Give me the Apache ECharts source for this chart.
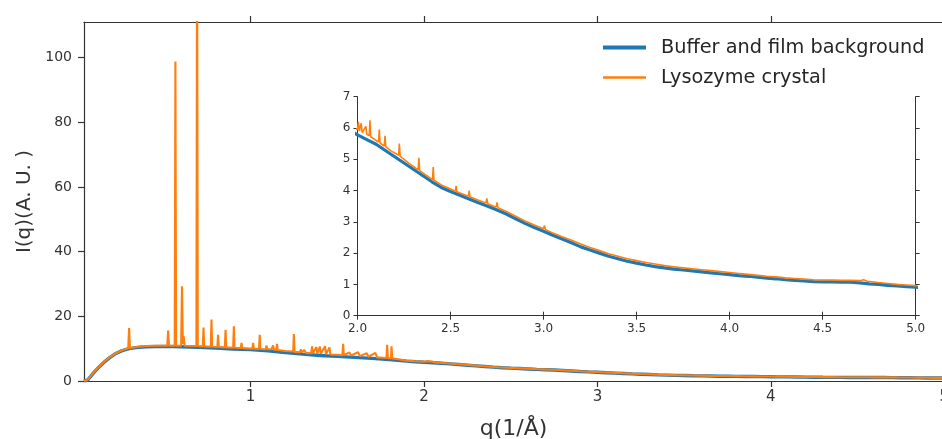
<!DOCTYPE html>
<html>
<head>
<meta charset="utf-8">
<script src="https://cdn.jsdelivr.net/npm/echarts@6/dist/echarts.min.js"></script>
<style>
  html, body { margin: 0; padding: 0; background: #fff; overflow: hidden; }
  #chart { width: 942px; height: 439px; }
</style>
</head>
<body>
<div id="chart"></div>
<script>
// ---- data ----
const seriesNames = ['Buffer and film background', 'Lysozyme crystal'];
const mainXTicks = [1, 2, 3, 4, 5];
const mainYTicks = [0, 20, 40, 60, 80, 100];

// [q (1/Å), I(q)]
const background = [
  [0.04,0],[0.06,0.3],[0.08,1.5],[0.10,2.8],[0.13,4.5],[0.16,6.0],[0.19,7.3],[0.22,8.4],
  [0.26,9.4],[0.30,10.0],[0.35,10.4],[0.40,10.6],[0.50,10.7],[0.60,10.6],[0.70,10.4],
  [0.80,10.2],[0.90,9.9],[1.00,9.7],[1.10,9.3],[1.20,8.8],[1.30,8.3],[1.40,7.9],[1.50,7.6],
  [1.60,7.3],[1.70,7.0],[1.80,6.6],[1.90,6.15],[1.95,5.95],[2.00,5.78],[2.05,5.63],[2.10,5.48],
  [2.15,5.28],[2.20,5.08],[2.25,4.88],[2.30,4.68],[2.35,4.48],[2.40,4.28],[2.45,4.1],[2.50,3.97],
  [2.55,3.85],[2.60,3.73],[2.65,3.61],[2.70,3.5],[2.75,3.38],[2.80,3.25],[2.85,3.1],[2.90,2.95],
  [2.95,2.82],[3.00,2.7],[3.05,2.57],[3.10,2.45],[3.15,2.33],[3.20,2.2],[3.25,2.1],[3.30,2.0],
  [3.35,1.9],[3.40,1.82],[3.45,1.74],[3.50,1.68],[3.55,1.62],[3.60,1.57],[3.65,1.53],[3.70,1.49],
  [3.75,1.46],[3.80,1.43],[3.85,1.4],[3.90,1.37],[3.95,1.34],[4.00,1.31],[4.05,1.28],[4.10,1.26],
  [4.15,1.23],[4.20,1.2],[4.25,1.18],[4.30,1.15],[4.35,1.13],[4.40,1.11],[4.45,1.09],[4.50,1.08],
  [4.55,1.08],[4.60,1.07],[4.65,1.07],[4.70,1.05],[4.75,1.02],[4.80,1.0],[4.85,0.97],[4.90,0.95],
  [4.95,0.93],[5.00,0.91],[5.05,0.89],[5.10,0.87]
];

const crystal = [
  [0.04,0],[0.06,0.4],[0.08,1.6],[0.10,2.9],[0.13,4.6],[0.16,6.1],[0.19,7.4],[0.22,8.5],
  [0.26,9.5],[0.295,10.1],[0.30,16.4],[0.305,10.15],[0.35,10.6],[0.40,10.8],[0.45,10.9],
  [0.50,10.9],[0.52,10.9],[0.525,15.6],[0.53,10.9],[0.563,10.9],[0.567,98.8],[0.571,10.9],
  [0.60,10.9],[0.605,29.3],[0.61,11.5],[0.615,13.8],[0.62,10.9],[0.688,10.8],[0.692,140],
  [0.696,10.8],[0.725,10.7],[0.729,16.5],[0.733,10.7],[0.771,10.6],[0.775,19],[0.779,10.6],
  [0.809,10.5],[0.813,14.3],[0.817,10.5],[0.852,10.4],[0.856,15.8],[0.86,10.4],[0.90,10.3],
  [0.904,16.9],[0.908,10.3],[0.944,10.2],[0.948,11.8],[0.952,10.2],[0.98,10.1],[1.011,10.0],
  [1.015,11.8],[1.019,10.0],[1.049,9.9],[1.053,14.3],[1.057,9.9],[1.088,9.8],[1.092,11.0],
  [1.096,9.8],[1.12,9.8],[1.13,11.0],[1.135,9.7],[1.149,9.6],[1.153,11.5],[1.157,9.6],
  [1.20,9.3],[1.246,9.1],[1.25,14.5],[1.254,9.0],[1.285,8.9],[1.29,9.8],[1.295,8.8],
  [1.31,9.6],[1.32,8.7],[1.35,8.6],[1.355,10.7],[1.36,8.6],[1.38,10.5],[1.385,8.5],
  [1.40,10.6],[1.405,8.4],[1.43,10.7],[1.435,8.3],[1.455,10.4],[1.46,8.2],[1.50,8.1],
  [1.53,8.0],[1.534,11.5],[1.538,8.0],[1.57,8.8],[1.58,7.9],[1.62,8.9],[1.63,7.7],
  [1.67,8.6],[1.68,7.5],[1.72,8.7],[1.73,7.3],[1.76,7.2],[1.784,7.1],[1.788,11.2],
  [1.792,7.1],[1.81,7.0],[1.813,10.7],[1.817,7.0],[1.85,6.75],[1.90,6.3],[1.95,6.1],
  [2.0,5.95],[2.005,6.2],[2.01,5.9],[2.02,6.15],[2.025,5.85],[2.045,6.05],[2.05,5.8],
  [2.063,5.76],[2.067,6.25],[2.071,5.72],[2.113,5.55],[2.117,5.95],[2.121,5.52],[2.144,5.42],
  [2.148,5.75],[2.152,5.4],[2.18,5.27],[2.221,5.13],[2.225,5.5],[2.229,5.1],[2.27,4.9],
  [2.326,4.66],[2.33,5.05],[2.334,4.64],[2.403,4.35],[2.407,4.75],[2.411,4.33],[2.45,4.18],
  [2.50,4.05],[2.526,3.98],[2.53,4.15],[2.534,3.96],[2.596,3.82],[2.6,4.0],[2.604,3.8],
  [2.65,3.69],[2.69,3.6],[2.695,3.75],[2.70,3.58],[2.745,3.47],[2.75,3.62],[2.755,3.45],
  [2.80,3.33],[2.85,3.18],[2.90,3.03],[2.95,2.9],[3.0,2.78],[3.005,2.88],[3.01,2.76],
  [3.05,2.64],[3.10,2.52],[3.15,2.41],[3.20,2.29],[3.25,2.18],[3.30,2.08],[3.35,1.98],
  [3.40,1.9],[3.45,1.82],[3.50,1.76],[3.55,1.7],[3.60,1.65],[3.65,1.6],[3.70,1.56],
  [3.75,1.53],[3.80,1.5],[3.85,1.47],[3.90,1.44],[3.95,1.41],[4.00,1.38],[4.05,1.35],
  [4.10,1.32],[4.15,1.29],[4.20,1.26],[4.25,1.24],[4.30,1.21],[4.35,1.19],[4.40,1.17],
  [4.45,1.15],[4.50,1.14],[4.55,1.14],[4.60,1.13],[4.65,1.13],[4.70,1.12],[4.72,1.15],
  [4.74,1.1],[4.80,1.06],[4.85,1.03],[4.90,1.0],[4.95,0.98],[5.00,0.96],[5.05,0.94],[5.10,0.92]
];

// ---- styling ----
const FONT = 'DejaVu Sans';
const INK = '#333';
const BLUE = '#1f77b4';
const ORANGE = '#ff7f0e';
const spine = { show: true, lineStyle: { color: INK, width: 1.2 } };

function axisBase(extra) {
  return Object.assign({
    type: 'value',
    axisLine: spine,
    splitLine: { show: false },
    axisTick: { show: true, inside: false, length: 5, lineStyle: { color: INK, width: 1.2 } },
    axisLabel: { color: INK, fontFamily: FONT, fontSize: 14 }
  }, extra);
}

const chart = echarts.init(document.getElementById('chart'), null, { renderer: 'canvas' });

const option = {
  animation: false,
  backgroundColor: '#fff',
  textStyle: { fontFamily: FONT },
  grid: [
    { left: 84, top: 22, width: 869, bottom: 58, containLabel: false, outerBoundsMode: 'none' },
    { left: 357.5, top: 96.7, width: 558.2, height: 219, containLabel: false, outerBoundsMode: 'none' }
  ],
  legend: [
    {
      data: [seriesNames[0]], left: 603, top: 38, padding: 0, icon: 'rect',
      itemWidth: 43, itemHeight: 4,
      textStyle: { fontSize: 19.3, color: '#262626', fontFamily: FONT, padding: [0, 0, 0, 10] }
    },
    {
      data: [seriesNames[1]], left: 603, top: 68, padding: 0, icon: 'rect',
      itemWidth: 43, itemHeight: 2.5,
      textStyle: { fontSize: 19.3, color: '#262626', fontFamily: FONT, padding: [0, 0, 0, 10] }
    }
  ],
  xAxis: [
    axisBase({
      gridIndex: 0, position: 'bottom', min: 0.04, max: 5.05,
      axisTick: { show: true, inside: false, length: 6, customValues: mainXTicks, lineStyle: { color: INK, width: 1.2 } },
      axisLabel: { color: INK, fontFamily: FONT, fontSize: 15, margin: 9, customValues: mainXTicks },
      name: 'q(1/Å)', nameLocation: 'middle', nameGap: 37,
      nameTextStyle: { fontSize: 22, color: INK, fontFamily: FONT, padding: [0, 10, 0, 0] }
    }),
    axisBase({
      gridIndex: 0, position: 'top', min: 0.04, max: 5.05,
      axisTick: { show: true, inside: false, length: 6, customValues: mainXTicks, lineStyle: { color: INK, width: 1.2 } },
      axisLabel: { show: false }
    }),
    axisBase({
      gridIndex: 1, position: 'bottom', min: 2, max: 5, interval: 0.5,
      axisTick: { show: true, inside: false, length: 4, lineStyle: { color: INK, width: 1 } },
      axisLine: { show: true, lineStyle: { color: INK, width: 1 } },
      axisLabel: { color: INK, fontFamily: FONT, fontSize: 12, margin: 7, formatter: v => v.toFixed(1) }
    }),
    axisBase({
      gridIndex: 1, position: 'top', min: 2, max: 5, interval: 0.5,
      axisTick: { show: true, inside: false, length: 4, lineStyle: { color: INK, width: 1 } },
      axisLine: { show: true, lineStyle: { color: INK, width: 1 } },
      axisLabel: { show: false }
    })
  ],
  yAxis: [
    axisBase({
      gridIndex: 0, position: 'left', min: 0, max: 111,
      axisTick: { show: true, inside: false, length: 6, customValues: mainYTicks, lineStyle: { color: INK, width: 1.2 } },
      axisLabel: { color: INK, fontFamily: FONT, fontSize: 14, margin: 12, customValues: mainYTicks },
      name: 'I(q)(A. U. )', nameLocation: 'middle', nameGap: 49, nameRotate: 90,
      nameTextStyle: { fontSize: 20, color: INK, fontFamily: FONT }
    }),
    axisBase({
      gridIndex: 1, position: 'left', min: 0, max: 7, interval: 1,
      axisTick: { show: true, inside: false, length: 4, lineStyle: { color: INK, width: 1 } },
      axisLine: { show: true, lineStyle: { color: INK, width: 1 } },
      axisLabel: { color: INK, fontFamily: FONT, fontSize: 12, margin: 7 }
    }),
    axisBase({
      gridIndex: 1, position: 'right', min: 0, max: 7, interval: 1,
      axisTick: { show: true, inside: false, length: 4, lineStyle: { color: INK, width: 1 } },
      axisLine: { show: true, lineStyle: { color: INK, width: 1 } },
      axisLabel: { show: false }
    })
  ],
  series: [
    {
      name: seriesNames[0], type: 'line', xAxisIndex: 0, yAxisIndex: 0,
      data: background, symbol: 'none', showSymbol: false, clip: true,
      color: BLUE, lineStyle: { color: BLUE, width: 3.4 }, z: 2
    },
    {
      name: seriesNames[1], type: 'line', xAxisIndex: 0, yAxisIndex: 0,
      data: crystal, symbol: 'none', showSymbol: false, clip: true,
      color: ORANGE, lineStyle: { color: ORANGE, width: 2.1 }, z: 3
    },
    {
      name: seriesNames[0], type: 'line', xAxisIndex: 2, yAxisIndex: 1,
      data: background, symbol: 'none', showSymbol: false, clip: true,
      color: BLUE, lineStyle: { color: BLUE, width: 3.2 }, z: 2
    },
    {
      name: seriesNames[1], type: 'line', xAxisIndex: 2, yAxisIndex: 1,
      data: crystal, symbol: 'none', showSymbol: false, clip: true,
      color: ORANGE, lineStyle: { color: ORANGE, width: 1.6 }, z: 3
    }
  ]
};

chart.setOption(option);
</script>
</body>
</html>
